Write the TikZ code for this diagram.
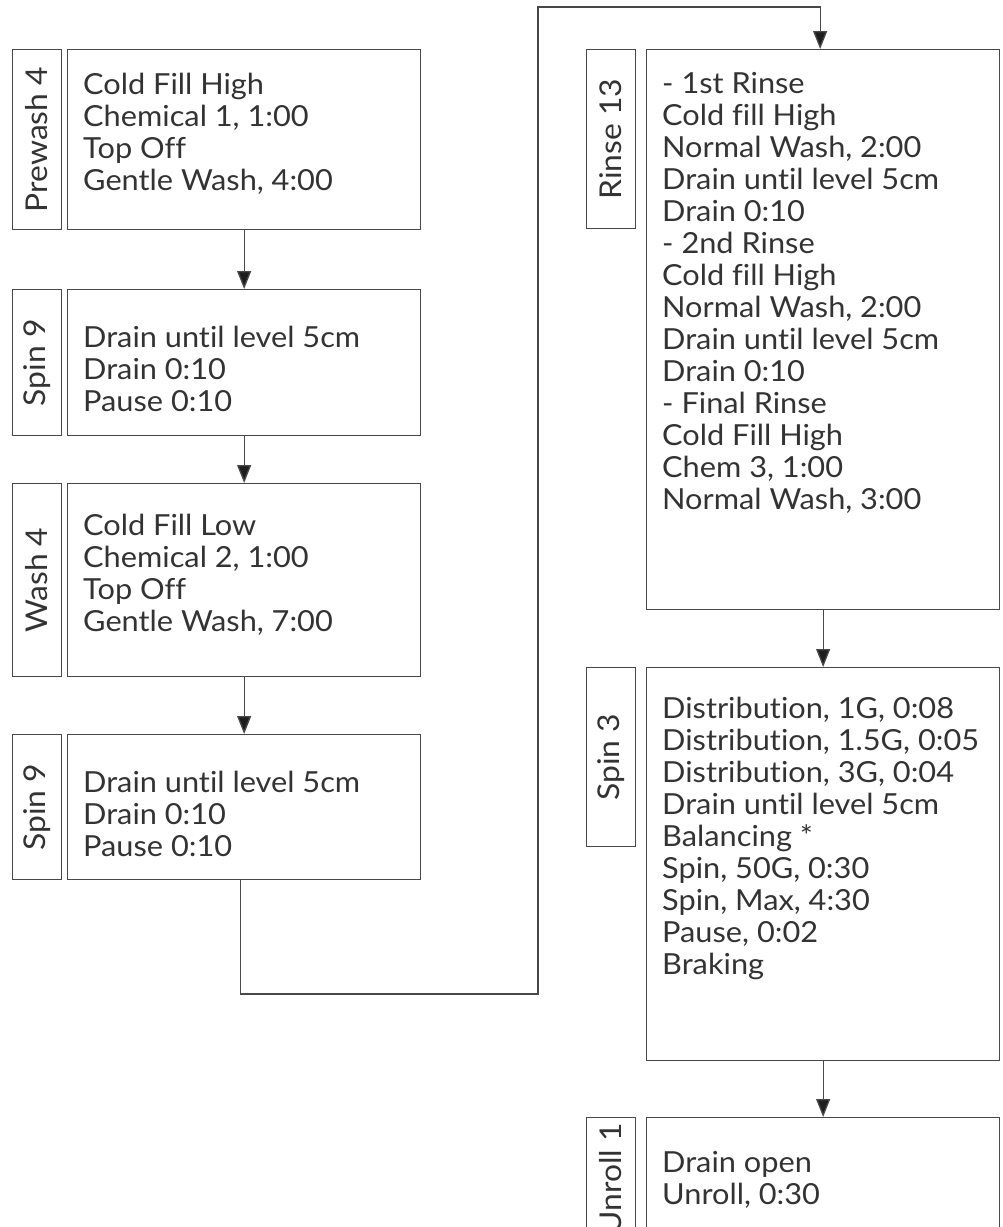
\documentclass[tikz,border=0pt]{standalone}
\usepackage{fontspec}
\setmainfont{Lato}[Ligatures={NoCommon}, FakeStretch=1.06]
\usetikzlibrary{arrows.meta, positioning}
\definecolor{framegray}{RGB}{72, 72, 72}
\definecolor{inkgray}{RGB}{51, 51, 51}
\definecolor{tipblack}{RGB}{30, 30, 30}

\tikzset{
  phase/.style={draw=framegray, line width=1.3pt, anchor=north west, minimum width=353pt, inner sep=0pt},
  tag/.style={draw=framegray, line width=1.3pt, minimum width=49pt, inner sep=0pt, text=inkgray, font=\fontsize{30}{32}\selectfont},
  steps/.style={anchor=north west, align=left, inner sep=0pt, text=inkgray, font=\fontsize{29}{32}\selectfont},
  flow/.style={draw=framegray, line width=1.3pt, -{Triangle[width=14pt, length=18pt, fill=tipblack]}}
}

\begin{document}
\begin{tikzpicture}[x=1pt, y=-1pt]
  \useasboundingbox (0, 0) rectangle (1002, 1227);
  \clip (0, 0) rectangle (1002, 1227);

  % left column
  \node[phase, minimum height=180pt] (prewash) at (67, 49) {};
  \node[tag, minimum height=180pt, left=5pt of prewash.north west, anchor=north east] (prewashtag) {\rotatebox{90}{Prewash 4}};
  \node[steps] (prewashtxt) at ([shift={(16, 24)}]prewash.north west) {Cold Fill High\\Chemical 1, 1:00\\Top Off\\Gentle Wash, 4:00};

  \node[phase, minimum height=146pt] (spinA) at (67, 289) {};
  \node[tag, minimum height=146pt, left=5pt of spinA.north west, anchor=north east] (spinAtag) {\rotatebox{90}{Spin 9}};
  \node[steps] (spinAtxt) at ([shift={(16, 37)}]spinA.north west) {Drain until level 5cm\\Drain 0:10\\Pause 0:10};

  \node[phase, minimum height=193pt] (wash) at (67, 483) {};
  \node[tag, minimum height=193pt, left=5pt of wash.north west, anchor=north east] (washtag) {\rotatebox{90}{Wash 4}};
  \node[steps] (washtxt) at ([shift={(16, 31)}]wash.north west) {Cold Fill Low\\Chemical 2, 1:00\\Top Off\\Gentle Wash, 7:00};

  \node[phase, minimum height=145pt] (spinB) at (67, 734) {};
  \node[tag, minimum height=145pt, left=5pt of spinB.north west, anchor=north east] (spinBtag) {\rotatebox{90}{Spin 9}};
  \node[steps] (spinBtxt) at ([shift={(16, 37)}]spinB.north west) {Drain until level 5cm\\Drain 0:10\\Pause 0:10};

  % right column
  \node[phase, minimum height=560pt] (rinse) at (646, 49) {};
  \node[tag, minimum height=179pt, left=10pt of rinse.north west, anchor=north east] (rinsetag) {\rotatebox{90}{Rinse 13}};
  \node[steps] (rinsetxt) at ([shift={(16, 23)}]rinse.north west) {- 1st Rinse\\Cold fill High\\Normal Wash, 2:00\\Drain until level 5cm\\Drain 0:10\\- 2nd Rinse\\Cold fill High\\Normal Wash, 2:00\\Drain until level 5cm\\Drain 0:10\\- Final Rinse\\Cold Fill High\\Chem 3, 1:00\\Normal Wash, 3:00};

  \node[phase, minimum height=393pt] (spinC) at (646, 667) {};
  \node[tag, minimum height=179pt, left=10pt of spinC.north west, anchor=north east] (spinCtag) {\rotatebox{90}{Spin 3}};
  \node[steps] (spinCtxt) at ([shift={(16, 30)}]spinC.north west) {Distribution, 1G, 0:08\\Distribution, 1.5G, 0:05\\Distribution, 3G, 0:04\\Drain until level 5cm\\Balancing *\\Spin, 50G, 0:30\\Spin, Max, 4:30\\Pause, 0:02\\Braking};

  \node[phase, minimum height=180pt] (unroll) at (646, 1117) {};
  \node[tag, minimum height=122pt, left=10pt of unroll.north west, anchor=north east] (unrolltag) {\rotatebox{90}{Unroll 1}};
  \node[steps] (unrolltxt) at ([shift={(16, 34)}]unroll.north west) {Drain open\\Unroll, 0:30};

  % connectors
  \draw[flow] (prewash.south) -- (spinA.north);
  \draw[flow] (spinA.south) -- (wash.north);
  \draw[flow] (wash.south) -- (spinB.north);
  \coordinate (lowturn) at (538, 994);
  \coordinate (highturn) at (538, 7);
  \draw[flow] ([xshift=-4pt]spinB.south) |- (lowturn) -- (highturn) -| ([xshift=-3pt]rinse.north);
  \draw[flow] (rinse.south) -- (spinC.north);
  \draw[flow] (spinC.south) -- (unroll.north);
\end{tikzpicture}
\end{document}
